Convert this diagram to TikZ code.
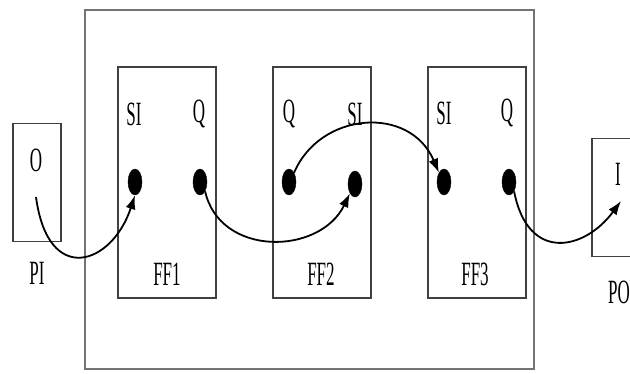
\documentclass[tikz,border=0pt]{standalone}
\usepackage{fontspec}
\setmainfont{Liberation Serif}
\usetikzlibrary{arrows.meta,shapes.geometric}
\tikzset{
  outerbox/.style={draw=black!55,line width=1.1pt,minimum width=449pt,minimum height=359pt,inner sep=0pt},
  ffbox/.style={draw=black!75,line width=1.5pt,minimum width=98pt,minimum height=231pt,inner sep=0pt},
  iobox/.style={draw=black!75,line width=1.5pt,minimum width=48pt,minimum height=118pt,inner sep=0pt},
  lbl/.style={inner sep=0pt,font=\fontsize{17}{20}\selectfont},
  pin/.style={ellipse,fill=black,draw=black,minimum width=14pt,minimum height=26pt,inner sep=0pt},
  wire/.style={line width=1.8pt,black,-{Latex[length=14pt,width=10pt]}}
}
\newcommand{\tall}[1]{\scalebox{1}[2]{#1}}
\begin{document}
\begin{tikzpicture}[x=1pt,y=-1pt]
\useasboundingbox (0,0) rectangle (630,373);
\node[outerbox] (chip) at (309.5,189.5) {};
\node[iobox] (pi) at (37,182.5) {};
\node[iobox] (po) at (616,197.5) {};
\node[ffbox] (ff1) at (167,182.5) {};
\node[ffbox] (ff2) at (322,182.5) {};
\node[ffbox] (ff3) at (477,182.5) {};
% labels
\node[lbl] (o) at (36,160) {\tall{O}};
\node[lbl] (pil) at (37,273) {\tall{PI}};
\node[lbl] (i) at (618,174) {\tall{I}};
\node[lbl] (pol) at (619,292) {\tall{PO}};
\node[lbl] (si1) at (134,114) {\tall{SI}};
\node[lbl] (q1) at (199,114) {\tall{Q}};
\node[lbl] (q2) at (289,114) {\tall{Q}};
\node[lbl] (si2) at (355,114) {\tall{SI}};
\node[lbl] (si3) at (444,113) {\tall{SI}};
\node[lbl] (q3) at (507,113) {\tall{Q}};
\node[lbl] (ff1l) at (167,274) {\tall{FF1}};
\node[lbl] (ff2l) at (321,274) {\tall{FF2}};
\node[lbl] (ff3l) at (475,274) {\tall{FF3}};
% pins
\node[pin] (d1) at (135,182) {};
\node[pin] (d2) at (200,182) {};
\node[pin] (d3) at (355,184) {};
\node[pin] (d4) at (289,182) {};
\node[pin] (d5) at (444,182) {};
\node[pin] (d6) at (509,182) {};
% wire ends
\coordinate (pistart) at (36,197);
\coordinate (poend) at (621,201);
% wires
\draw[wire] (pistart) .. controls +(12,90) and +(-23,70) .. (d1.south);
\draw[wire] (d2.south east) .. controls +(15,66) and +(-30,62) .. (d3.south west);
\draw[wire] (d4.north east) .. controls +(26,-61) and +(-29,-68) .. (d5.north west);
\draw[wire] (d6.south east) .. controls +(14,72) and +(-36,49) .. (poend);
\end{tikzpicture}
\end{document}
